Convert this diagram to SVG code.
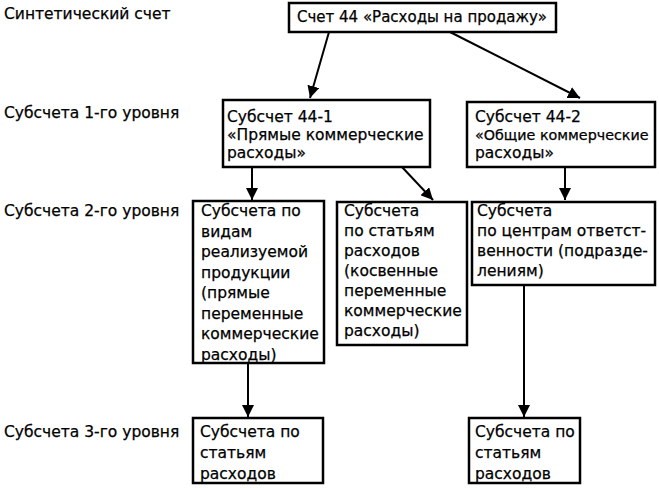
<svg xmlns="http://www.w3.org/2000/svg" width="659" height="488" viewBox="0 0 659 488">
<style>
text{font-family:"DejaVu Sans","Liberation Sans",Arial,sans-serif;font-size:15.5px;fill:#000;stroke:#000;stroke-width:0.25}
.box{fill:#fff;stroke:#000;stroke-width:2.5}
.con{stroke:#000;stroke-width:2;fill:none}
</style>
<defs>
<marker id="ah" viewBox="0 0 10 10" refX="10" refY="5" markerWidth="6" markerHeight="6" orient="auto" markerUnits="strokeWidth">
<path d="M0,0 L10,5 L0,10 z" fill="#000"/>
</marker>
</defs>
<rect width="659" height="488" fill="#fff"/>
<g id="labels">
<text x="4" y="19">Синтетический счет</text>
<text x="4" y="118">Субсчета 1-го уровня</text>
<text x="4" y="216">Субсчета 2-го уровня</text>
<text x="4" y="437">Субсчета 3-го уровня</text>
</g>
<g id="connectors">
<line class="con" x1="329" y1="32" x2="310" y2="98" marker-end="url(#ah)"/>
<line class="con" x1="450" y1="32" x2="580" y2="98" marker-end="url(#ah)"/>
<line class="con" x1="252" y1="167" x2="252" y2="200" marker-end="url(#ah)"/>
<line class="con" x1="402" y1="167" x2="433" y2="200" marker-end="url(#ah)"/>
<line class="con" x1="565" y1="167" x2="565" y2="200" marker-end="url(#ah)"/>
<line class="con" x1="248" y1="363" x2="248" y2="417" marker-end="url(#ah)"/>
<line class="con" x1="524" y1="285" x2="524" y2="417" marker-end="url(#ah)"/>
</g>
<g id="n-top">
<rect class="box" x="289" y="3" width="267" height="29"/>
<text x="297" y="22" style="font-size:15px">Счет 44 «Расходы на продажу»</text>
</g>
<g id="n-44-1">
<rect class="box" x="223" y="100" width="207" height="67"/>
<text x="227" y="122">Субсчет 44-1</text>
<text x="227" y="140">«Прямые коммерческие</text>
<text x="227" y="158">расходы»</text>
</g>
<g id="n-44-2">
<rect class="box" x="467" y="102" width="188" height="65"/>
<text x="475" y="122">Субсчет 44-2</text>
<text x="475" y="140" style="font-size:14.3px">«Общие коммерческие</text>
<text x="475" y="158">расходы»</text>
</g>
<g id="n-a">
<rect class="box" x="193" y="201" width="131" height="162"/>
<text x="201" y="216">Субсчета по</text>
<text x="201" y="236.5">видам</text>
<text x="201" y="257">реализуемой</text>
<text x="201" y="277.5">продукции</text>
<text x="201" y="298">(прямые</text>
<text x="201" y="318.5">переменные</text>
<text x="201" y="339">коммерческие</text>
<text x="201" y="359.5">расходы)</text>
</g>
<g id="n-b">
<rect class="box" x="337" y="202" width="130" height="143"/>
<text x="344" y="216">Субсчета</text>
<text x="344" y="236">по статьям</text>
<text x="344" y="256">расходов</text>
<text x="344" y="276">(косвенные</text>
<text x="344" y="296">переменные</text>
<text x="344" y="316">коммерческие</text>
<text x="344" y="336">расходы)</text>
</g>
<g id="n-c">
<rect class="box" x="472" y="202" width="183" height="83"/>
<text x="477" y="216">Субсчета</text>
<text x="477" y="236">по центрам ответст-</text>
<text x="477" y="256">венности (подразде-</text>
<text x="477" y="276">лениям)</text>
</g>
<g id="n-d">
<rect class="box" x="193" y="418" width="130" height="65"/>
<text x="200" y="437">Субсчета по</text>
<text x="200" y="458">статьям</text>
<text x="200" y="479">расходов</text>
</g>
<g id="n-e">
<rect class="box" x="469" y="418" width="111" height="65"/>
<text x="475" y="437">Субсчета по</text>
<text x="475" y="458">статьям</text>
<text x="475" y="479">расходов</text>
</g>
</svg>
